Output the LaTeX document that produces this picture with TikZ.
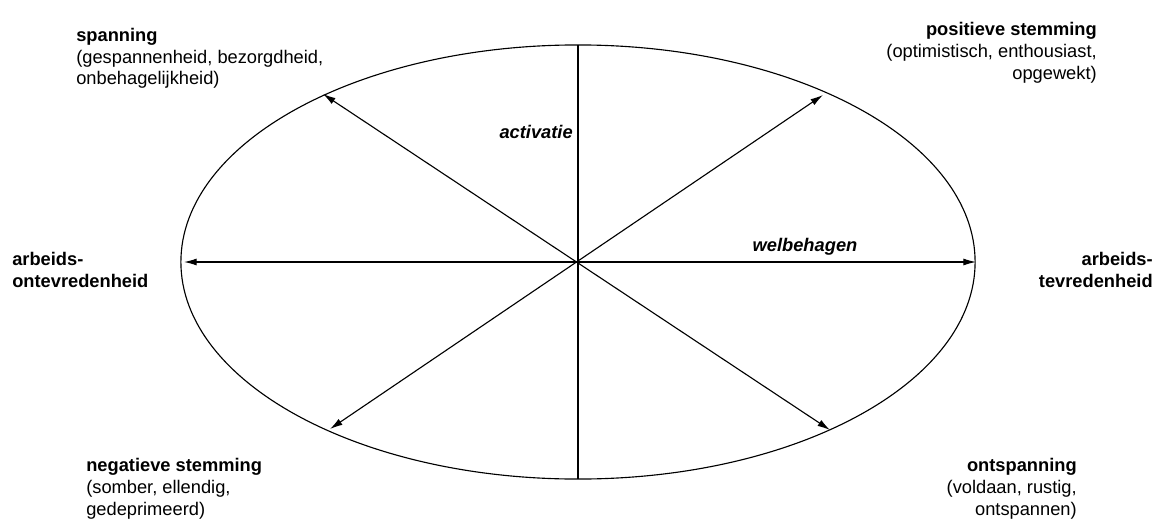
\documentclass[tikz,border=0pt]{standalone}
\usepackage{fontspec}
\setmainfont{Liberation Sans}
\usetikzlibrary{arrows.meta}

\begin{document}
\begin{tikzpicture}[
            x=0.025cm,
            y=-0.025cm,
            >={Latex[length=9pt,width=5pt]},
            axis/.style={
                line width=0.8pt
            },
            mood/.style={
                inner sep=0pt,
                font=\fontsize{13}{15.4}\selectfont
            },
            dimension/.style={
                inner sep=0pt,
                font=\fontsize{13}{15.4}\selectfont\bfseries\itshape
            }
        ]

            \useasboundingbox (0, 0) rectangle (1161, 519);

            \coordinate (c) at (578, 262);
            \coordinate (t) at (578, 45);
            \coordinate (b) at (578, 479);
            \coordinate (l) at (184, 262);
            \coordinate (r) at (976, 262);
            \coordinate (ul) at (323, 94);
            \coordinate (ur) at (823, 95);
            \coordinate (ll) at (330, 429);
            \coordinate (lr) at (830, 430);

            \draw[axis] (c) ellipse [x radius=9.925cm, y radius=5.425cm];

            \draw[axis] (t) -- (b);
            \draw[axis, <->] (l) -- (r);
            \draw[axis, <->] (ul) -- (lr);
            \draw[axis, <->] (ll) -- (ur);

            \node[dimension, anchor=base east] (act) at (573, 138) {activatie};
            \node[dimension, anchor=base] (wel) at (805, 251) {welbehagen};

            % base of a multi-line node sits under its last line
            \node[mood, align=left, anchor=base west] (span) at (76, 85)
                {\textbf{spanning}\\(gespannenheid, bezorgdheid,\\onbehagelijkheid)};
            \node[mood, align=right, anchor=base east] (pos) at (1097, 79)
                {\textbf{positieve stemming}\\(optimistisch, enthousiast,\\opgewekt)};
            \node[mood, align=left, anchor=base west] (ontevr) at (12, 287)
                {\textbf{arbeids-}\\\textbf{ontevredenheid}};
            \node[mood, align=right, anchor=base east] (tevr) at (1153, 287)
                {\textbf{arbeids-}\\\textbf{tevredenheid}};
            \node[mood, align=left, anchor=base west] (neg) at (86, 515)
                {\textbf{negatieve stemming}\\(somber, ellendig,\\gedeprimeerd)};
            \node[mood, align=right, anchor=base east] (ontsp) at (1077, 515)
                {\textbf{ontspanning}\\(voldaan, rustig,\\ontspannen)};

        \end{tikzpicture}
\end{document}
